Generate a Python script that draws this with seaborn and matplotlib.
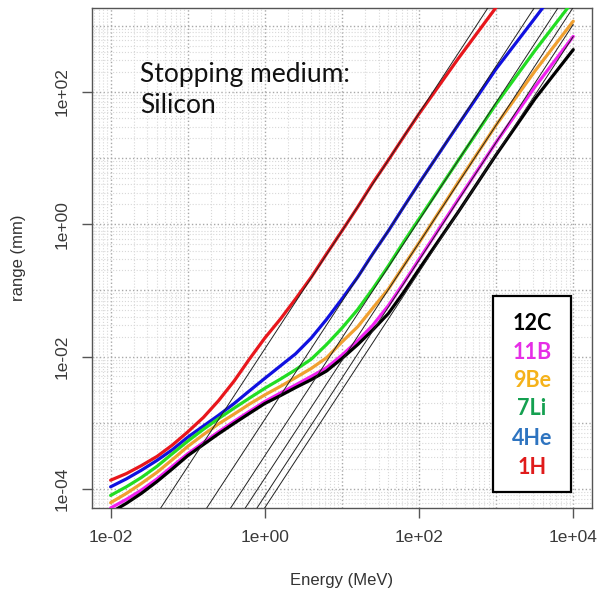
import numpy as np
import pandas as pd
import matplotlib
matplotlib.use('Agg')
import matplotlib.pyplot as plt
from matplotlib.patches import Rectangle
import seaborn as sns

# Energy grid (MeV) the curves were read at
energy = [0.01, 0.016, 0.025, 0.04, 0.063, 0.1, 0.16, 0.25, 0.4, 0.63, 1,
          1.6, 2.5, 4, 6.3, 10, 16, 25, 40, 63, 100, 320, 1000, 3200, 10000]

ions = ['1H', '4He', '7Li', '9Be', '11B', '12C']

# log10 of range (mm) at each energy
log_range_1H = [-3.87, -3.77, -3.65, -3.51, -3.34, -3.14, -2.92, -2.67, -2.37, -2.04, -1.72,
                -1.43, -1.13, -0.80, -0.45, -0.10, 0.26, 0.62, 0.97, 1.32, 1.67,
                2.50, 3.28, 4.05, 4.80]
log_range_4He = [-3.97, -3.85, -3.72, -3.57, -3.41, -3.22, -3.05, -2.89, -2.71, -2.52, -2.33,
                 -2.14, -1.96, -1.72, -1.44, -1.13, -0.80, -0.45, -0.10, 0.26, 0.62,
                 1.50, 2.35, 3.12, 3.88]
log_range_7Li = [-4.10, -3.97, -3.83, -3.66, -3.47, -3.28, -3.10, -2.94, -2.78, -2.63, -2.48,
                 -2.34, -2.20, -2.04, -1.82, -1.57, -1.29, -0.98, -0.63, -0.27, 0.08,
                 0.96, 1.82, 2.63, 3.38]
log_range_9Be = [-4.21, -4.07, -3.92, -3.75, -3.56, -3.36, -3.18, -3.02, -2.87, -2.72, -2.58,
                 -2.45, -2.32, -2.18, -2.02, -1.78, -1.55, -1.27, -0.98, -0.63, -0.28,
                 0.63, 1.50, 2.32, 3.07]
log_range_11B = [-4.29, -4.16, -4.02, -3.85, -3.66, -3.47, -3.30, -3.14, -2.98, -2.83, -2.68,
                 -2.55, -2.43, -2.30, -2.17, -1.98, -1.76, -1.53, -1.23, -0.89, -0.53,
                 0.37, 1.24, 2.08, 2.84]
log_range_12C = [-4.36, -4.22, -4.07, -3.89, -3.70, -3.50, -3.33, -3.17, -3.01, -2.86, -2.71,
                 -2.59, -2.47, -2.35, -2.22, -2.03, -1.82, -1.60, -1.35, -1.03, -0.68,
                 0.18, 1.05, 1.90, 2.64]

# thin straight power-law lines (one per ion), start and end points
thin_E_start = [0.044, 0.174, 0.355, 0.55, 0.78, 0.98]
thin_E_end = [813, 3240, 6600, 10000, 10000, 10000]
thin_R_start = [5e-5, 5e-5, 5e-5, 5e-5, 5e-5, 5e-5]
thin_R_end = [2000, 2000, 2000, 1900, 1050, 690]

curve_colors = {'1H': '#e8161c', '4He': '#1010e0', '7Li': '#22dd22',
                '9Be': '#f0a030', '11B': '#f020f0', '12C': '#000000'}
label_colors = {'12C': '#000000', '11B': '#e62ee6', '9Be': '#f5b21a',
                '7Li': '#14a050', '4He': '#2e74c0', '1H': '#e01b1b'}

log_ranges = [log_range_1H, log_range_4He, log_range_7Li,
              log_range_9Be, log_range_11B, log_range_12C]
rows = []
for ion, lr in zip(ions, log_ranges):
    for e, r in zip(energy, lr):
        rows.append({'ion': ion, 'energy': e, 'range': 10 ** r})
df = pd.DataFrame(rows)

thin_rows = []
for ion, e0, e1, r0, r1 in zip(ions, thin_E_start, thin_E_end, thin_R_start, thin_R_end):
    thin_rows.append({'ion': ion, 'energy': e0, 'range': r0})
    thin_rows.append({'ion': ion, 'energy': e1, 'range': r1})
thin_df = pd.DataFrame(thin_rows)

sns.set_theme(style='white')
plt.rcParams['font.family'] = ['Liberation Sans', 'DejaVu Sans']

fig = plt.figure(figsize=(6.02, 5.94), dpi=100)
ax = fig.add_axes([0.153, 0.1448, 0.83, 0.8418])
ax.set_xscale('log')
ax.set_yscale('log')
ax.set_xlim(10 ** -2.24, 10 ** 4.24)
ax.set_ylim(10 ** -4.29, 10 ** 3.27)

# background grid: fine lines and decade lines, dotted like R's grid()
ax.xaxis.set_minor_locator(matplotlib.ticker.LogLocator(base=10, subs=np.arange(2, 10)))
ax.yaxis.set_minor_locator(matplotlib.ticker.LogLocator(base=10, subs=np.arange(2, 10)))
ax.grid(which='minor', color='#d8d8d8', linestyle=':', linewidth=0.8)
for d in np.arange(-2, 5):
    ax.axvline(10.0 ** d, color='#a8a8a8', linestyle=':', linewidth=1.0, zorder=0.5)
for d in np.arange(-4, 4):
    ax.axhline(10.0 ** d, color='#a8a8a8', linestyle=':', linewidth=1.0, zorder=0.5)

sns.lineplot(data=df, x='energy', y='range', hue='ion', hue_order=ions,
             palette=curve_colors, linewidth=2.3, legend=False, sort=True,
             estimator=None, ax=ax, zorder=3)
sns.lineplot(data=thin_df, x='energy', y='range', units='ion', estimator=None,
             color='#222222', linewidth=0.7, legend=False, ax=ax, zorder=4)

ax.set_xticks([1e-2, 1e0, 1e2, 1e4])
ax.set_xticklabels(['1e-02', '1e+00', '1e+02', '1e+04'])
ax.set_yticks([1e-4, 1e-2, 1e0, 1e2])
ax.set_yticklabels(['1e-04', '1e-02', '1e+00', '1e+02'], rotation=90, va='center')
ax.tick_params(which='major', direction='out', length=7, width=1, color='#555555',
               labelsize=12.5, labelcolor='#3a3a3a', bottom=True, left=True)
ax.tick_params(axis='x', pad=9)
ax.tick_params(axis='y', pad=9)
ax.tick_params(which='minor', length=0)
for s in ax.spines.values():
    s.set_color('#555555')
    s.set_linewidth(1.0)

ax.set_xlabel('Energy (MeV)', fontsize=12, color='#333333', labelpad=20)
ax.set_ylabel('range (mm)', fontsize=12, color='#333333', labelpad=21)

ax.text(0.096, 0.79, 'Stopping medium:\nSilicon', transform=ax.transAxes,
        fontsize=19, family=['Lato', 'DejaVu Sans'], color='#111111',
        ha='left', va='baseline', linespacing=1.3, zorder=5)

# legend box with coloured labels
ax.add_patch(Rectangle((0.802, 0.032), 0.156, 0.392, transform=ax.transAxes,
                       facecolor='white', edgecolor='black', linewidth=1.6, zorder=6))
label_y = [0.368, 0.31, 0.254, 0.198, 0.138, 0.08]
for name, yy in zip(['12C', '11B', '9Be', '7Li', '4He', '1H'], label_y):
    ax.text(0.88, yy, name, transform=ax.transAxes, ha='center', va='center',
            fontsize=15.5, fontweight='bold', family=['Lato', 'DejaVu Sans'],
            color=label_colors[name], zorder=7)

fig.savefig('out.png', dpi=100)
